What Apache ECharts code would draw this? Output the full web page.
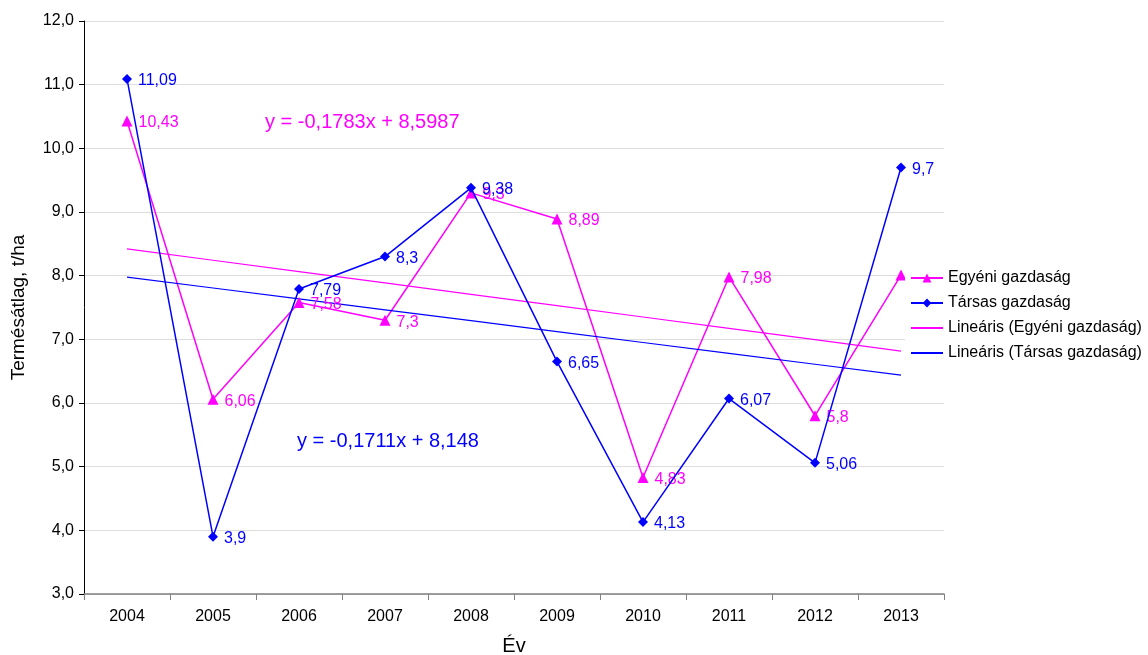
<!DOCTYPE html>
<html>
<head>
<meta charset="utf-8">
<script src="https://cdn.jsdelivr.net/npm/echarts@6/dist/echarts.min.js"></script>
<style>
  html, body { margin: 0; padding: 0; background: #fff; }
  #chart { width: 1148px; height: 655px; }
</style>
</head>
<body>
<div id="chart"></div>
<script>
const years = ['2004', '2005', '2006', '2007', '2008', '2009', '2010', '2011', '2012', '2013'];
const egyeni = [10.43, 6.06, 7.58, 7.3, 9.3, 8.89, 4.83, 7.98, 5.8, 8.01];
const tarsas = [11.09, 3.9, 7.79, 8.3, 9.38, 6.65, 4.13, 6.07, 5.06, 9.7];
const yTicks = { min: 3, max: 12, step: 1 };

// least squares trend, x = 1..n like the spreadsheet does
function trend(vals) {
  const n = vals.length;
  let sx = 0, sy = 0, sxy = 0, sxx = 0;
  vals.forEach((v, i) => {
    const x = i + 1;
    sx += x; sy += v; sxy += x * v; sxx += x * x;
  });
  const b = (n * sxy - sx * sy) / (n * sxx - sx * sx);
  const a = (sy - b * sx) / n;
  return vals.map((v, i) => a + b * (i + 1));
}

const font = 'Liberation Sans, Arial, sans-serif';
const pink = '#FF00FF';
const blue = '#0000FF';
const comma = v => String(v).replace('.', ',');

const chart = echarts.init(document.getElementById('chart'));

chart.setOption({
  animation: false,
  textStyle: { fontFamily: font },
  grid: { left: 84, right: 204, top: 21, bottom: 61, containLabel: false, outerBoundsMode: 'none' },
  legend: {
    orient: 'vertical',
    left: 905,
    top: 265,
    z: 10,
    padding: 5,
    backgroundColor: '#fff',
    itemGap: 9,
    itemWidth: 32,
    itemHeight: 11,
    textStyle: { fontSize: 16, color: '#000', fontFamily: font },
    data: [
      'Egyéni gazdaság',
      'Társas gazdaság',
      { name: 'Lineáris (Egyéni gazdaság)', itemStyle: { opacity: 0 } },
      { name: 'Lineáris (Társas gazdaság)', itemStyle: { opacity: 0 } }
    ]
  },
  xAxis: {
    type: 'category',
    data: years,
    boundaryGap: true,
    name: 'Év',
    nameLocation: 'middle',
    nameGap: 42,
    nameTextStyle: { fontSize: 20, color: '#000' },
    axisLine: { lineStyle: { color: '#808080', width: 1.5 } },
    axisTick: { show: true, length: 6, lineStyle: { color: '#808080' } },
    axisLabel: { fontSize: 16, color: '#000', margin: 15 },
    splitLine: { show: false }
  },
  yAxis: {
    type: 'value',
    min: yTicks.min,
    max: yTicks.max,
    interval: yTicks.step,
    name: 'Termésátlag, t/ha',
    nameLocation: 'middle',
    nameGap: 56,
    nameTextStyle: { fontSize: 19, color: '#000' },
    axisLine: { show: true, lineStyle: { color: '#000', width: 1 } },
    axisTick: { show: true, length: 5, lineStyle: { color: '#000' } },
    axisLabel: { fontSize: 16, color: '#000', margin: 10, formatter: v => v.toFixed(1).replace('.', ',') },
    splitLine: { show: true, lineStyle: { color: '#DDDDDD', width: 1 } }
  },
  series: [
    {
      name: 'Egyéni gazdaság',
      type: 'line',
      data: egyeni,
      z: 3,
      symbol: 'triangle',
      symbolSize: 11,
      itemStyle: { color: pink },
      lineStyle: { color: pink, width: 1.5 },
      label: { show: true, position: 'right', distance: 6, offset: [0, 2], color: pink, fontSize: 16, formatter: p => comma(p.value) }
    },
    {
      name: 'Társas gazdaság',
      type: 'line',
      data: tarsas,
      z: 4,
      symbol: 'diamond',
      symbolSize: 10,
      itemStyle: { color: blue },
      lineStyle: { color: blue, width: 1.5 },
      label: { show: true, position: 'right', distance: 6, offset: [0, 2], color: blue, fontSize: 16, formatter: p => comma(p.value) }
    },
    {
      name: 'Lineáris (Egyéni gazdaság)',
      type: 'line',
      data: trend(egyeni),
      symbol: 'none',
      lineStyle: { color: pink, width: 1.2 },
      itemStyle: { color: pink },
      silent: true
    },
    {
      name: 'Lineáris (Társas gazdaság)',
      type: 'line',
      data: trend(tarsas),
      symbol: 'none',
      lineStyle: { color: blue, width: 1.2 },
      itemStyle: { color: blue },
      silent: true
    }
  ],
  graphic: [
    { type: 'text', left: 265, top: 112, style: { text: 'y = -0,1783x + 8,5987', fill: pink, font: '20px ' + font } },
    { type: 'text', left: 297, top: 431, style: { text: 'y = -0,1711x + 8,148', fill: blue, font: '20px ' + font } }
  ]
});
</script>
</body>
</html>
